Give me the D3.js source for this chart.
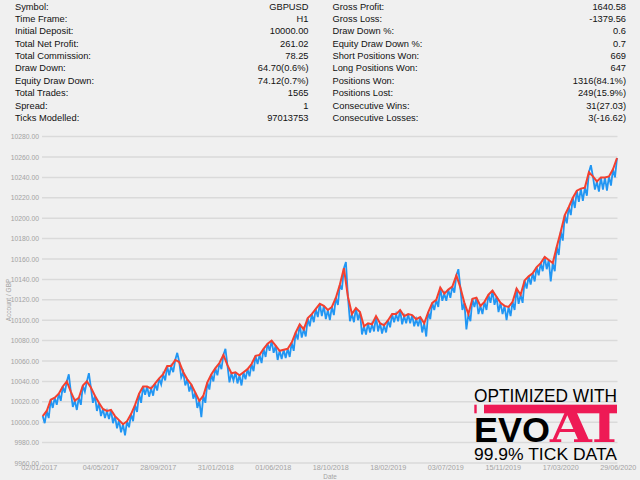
<!DOCTYPE html>
<html><head><meta charset="utf-8">
<script src="https://cdn.jsdelivr.net/npm/d3@7"></script>
<style>html,body{margin:0;padding:0;background:#f0f0f0;} svg{display:block;}</style>
</head><body><svg id="c" width="640" height="480"></svg>
<script>
// ---- report table ----
const leftLabels = ["Symbol:", "Time Frame:", "Initial Deposit:", "Total Net Profit:", "Total Commission:", "Draw Down:", "Equity Draw Down:", "Total Trades:", "Spread:", "Ticks Modelled:"];
const leftValues = ["GBPUSD", "H1", "10000.00", "261.02", "78.25", "64.70(0.6%)", "74.12(0.7%)", "1565", "1", "97013753"];
const rightLabels = ["Gross Profit:", "Gross Loss:", "Draw Down %:", "Equity Draw Down %:", "Short Positions Won:", "Long Positions Won:", "Positions Won:", "Positions Lost:", "Consecutive Wins:", "Consecutive Losses:"];
const rightValues = ["1640.58", "-1379.56", "0.6", "0.7", "669", "647", "1316(84.1%)", "249(15.9%)", "31(27.03)", "3(-16.62)"];

// ---- chart data ----
const balance = [10006,10011,10022,10024,10028,10035,10040,10030,10021,10024,
10036,10040,10034,10026,10019,10013,10011,10012,10006,10002,
9998,10001,10008,10017,10028,10035,10035,10033,10038,10043,
10047,10055,10055,10061,10059,10049,10042,10037,10029,10021,
10026,10039,10047,10053,10058,10066,10056,10048,10049,10046,
10049,10052,10057,10065,10066,10072,10077,10080,10075,10070,
10071,10072,10078,10088,10096,10091,10102,10106,10111,10116,
10114,10110,10113,10122,10135,10151,10123,10106,10112,10108,
10094,10097,10096,10104,10097,10095,10100,10106,10106,10110,
10104,10106,10105,10101,10103,10097,10108,10117,10120,10132,
10126,10130,10133,10144,10132,10117,10106,10121,10122,10114,
10118,10125,10129,10123,10117,10114,10113,10118,10131,10125,
10139,10143,10146,10152,10156,10162,10159,10156,10172,10187,
10203,10211,10220,10227,10229,10230,10245,10241,10236,10240,
10240,10241,10248,10259];
const equity = [9999,10004,10014,10017,10021,10029,10047,10015,10012,10017,
10030,10048,10019,10011,10006,10004,10003,9999,9994,9990,
9987,9995,10001,10010,10019,10027,10025,10026,10031,10037,
10041,10046,10049,10068,10044,10036,10030,10023,10014,10005,
10019,10032,10040,10046,10052,10072,10039,10041,10038,10036,
10042,10045,10050,10057,10058,10064,10070,10068,10061,10062,
10063,10064,10070,10081,10083,10084,10094,10098,10103,10104,
10101,10100,10105,10115,10130,10157,10099,10098,10100,10086,
10086,10088,10089,10089,10087,10088,10093,10098,10099,10096,
10097,10097,10094,10094,10088,10084,10101,10110,10113,10119,
10119,10122,10127,10150,10110,10091,10099,10113,10106,10106,
10110,10117,10115,10108,10106,10100,10104,10110,10116,10117,
10131,10135,10138,10144,10148,10150,10138,10148,10164,10178,
10195,10203,10210,10216,10217,10222,10252,10228,10226,10228,
10227,10232,10240];
const yTicks = [9960, 9980, 10000, 10020, 10040, 10060, 10080, 10100, 10120, 10140, 10160, 10180, 10200, 10220, 10240, 10260, 10280];
const xLabels = ["02/01/2017", "04/05/2017", "28/09/2017", "31/01/2018", "01/06/2018", "18/10/2018", "18/02/2019", "03/07/2019", "15/11/2019", "17/03/2020", "29/06/2020"];

const svg = d3.select('#c');
svg.append('rect').attr('width', 640).attr('height', 480).attr('fill', '#f0f0f0');
const FONT = '"Liberation Sans", Arial, sans-serif';

// table
const rowY = d3.scaleLinear().domain([0, 9]).range([9.6, 120.9]);
const tbl = svg.append('g').attr('font-family', FONT).attr('font-size', 9.3).attr('fill', '#111');
tbl.selectAll('.ll').data(leftLabels).join('text').attr('x', 15).attr('y', (d, i) => rowY(i)).text(d => d);
tbl.selectAll('.lv').data(leftValues).join('text').attr('x', 308.5).attr('y', (d, i) => rowY(i)).attr('text-anchor', 'end').text(d => d);
tbl.selectAll('.rl').data(rightLabels).join('text').attr('x', 332.5).attr('y', (d, i) => rowY(i)).text(d => d);
tbl.selectAll('.rv').data(rightValues).join('text').attr('x', 626).attr('y', (d, i) => rowY(i)).attr('text-anchor', 'end').text(d => d);

// scales
const x = d3.scaleLinear().domain([0, balance.length - 1]).range([42.7, 617]);
const y = d3.scaleLinear().domain([9960, 10280]).range([463, 136.6]);

// grid lines
svg.append('g').selectAll('line').data(yTicks).join('line')
  .attr('x1', 42).attr('x2', 617.5).attr('y1', d => y(d)).attr('y2', d => y(d))
  .attr('stroke', '#dadada').attr('stroke-width', 1.5);

// y axis labels
const yAxis = svg.append('g').attr('transform', 'translate(42,0)')
  .call(d3.axisLeft(y).tickValues(yTicks).tickFormat(d3.format('.2f')).tickSize(0).tickPadding(3));
yAxis.select('.domain').remove();
yAxis.selectAll('text').attr('font-family', FONT).attr('font-size', 6.8).attr('fill', '#a3a3a3');

// x axis labels
const xp = d3.scalePoint().domain(xLabels).range([42.7, 617.7]);
const xAxis = svg.append('g').attr('transform', 'translate(0,463)')
  .call(d3.axisBottom(xp).tickSize(0).tickPadding(2.3));
xAxis.select('.domain').remove();
xAxis.selectAll('text').attr('font-family', FONT).attr('font-size', 7.2).attr('fill', '#a3a3a3')
  .attr('dx', (d, i) => i === 0 ? -4 : 0);

svg.append('text').attr('x', 330).attr('y', 479).attr('text-anchor', 'middle')
  .attr('font-family', FONT).attr('font-size', 6.3).attr('fill', '#a3a3a3').text('Date');
svg.append('text').attr('transform', 'translate(10.5,300) rotate(-90)').attr('text-anchor', 'middle')
  .attr('font-family', FONT).attr('font-size', 6.5).attr('fill', '#a3a3a3').text('Account / GBP');

// series
const line = d3.line().x(d => x(d[0])).y(d => y(d[1]));
const eqPts = [];
balance.forEach((b, i) => { eqPts.push([i, b]); if (i < equity.length) eqPts.push([i + 0.5, equity[i]]); });
svg.append('path').datum(eqPts).attr('d', line).attr('fill', 'none')
  .attr('stroke', '#2196f3').attr('stroke-width', 1.8).attr('stroke-linejoin', 'miter');
svg.append('path').datum(balance.map((b, i) => [i, b])).attr('d', line).attr('fill', 'none')
  .attr('stroke', '#f4402f').attr('stroke-width', 2);

// logo
const logo = svg.append('g');
logo.append('text').attr('x', 474).attr('y', 402).attr('font-family', FONT).attr('font-size', 18)
  .attr('fill', '#000').attr('textLength', 143).attr('lengthAdjust', 'spacingAndGlyphs').text('OPTIMIZED WITH');
logo.append('rect').attr('x', 474.3).attr('y', 404.7).attr('width', 2.4).attr('height', 8.6).attr('fill', '#ee1a55');
logo.append('rect').attr('x', 484).attr('y', 404.7).attr('width', 133).attr('height', 8.6).attr('fill', '#ee1a55');
logo.append('text').attr('x', 474).attr('y', 442.3).attr('font-family', FONT).attr('font-weight', 'bold').attr('font-size', 35)
  .attr('fill', '#000').attr('textLength', 76).attr('lengthAdjust', 'spacingAndGlyphs').text('EVO');
logo.append('text').attr('x', 550).attr('y', 442.3).attr('font-family', '"DejaVu Serif", serif').attr('font-weight', 'bold').attr('font-size', 48)
  .attr('fill', '#ee1a55').attr('textLength', 67).attr('lengthAdjust', 'spacingAndGlyphs').text('AI');
logo.append('text').attr('x', 474).attr('y', 460.3).attr('font-family', FONT).attr('font-size', 16.8)
  .attr('fill', '#000').attr('textLength', 143).attr('lengthAdjust', 'spacingAndGlyphs').text('99.9% TICK DATA');
</script></body></html>
